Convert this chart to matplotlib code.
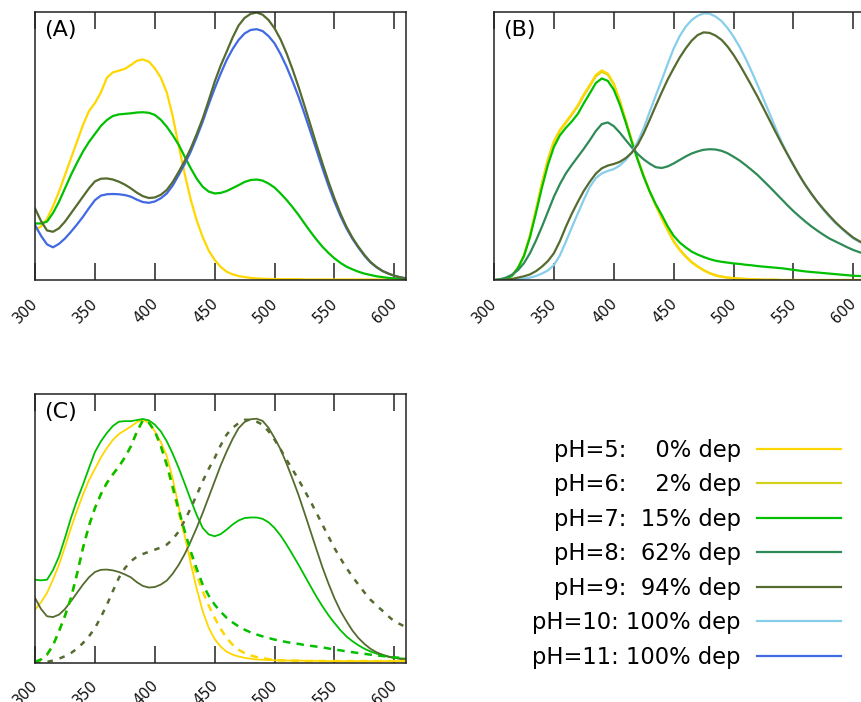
import matplotlib.pyplot as plt
from matplotlib.transforms import ScaledTranslation

# wavelength grid (nm) (axis height = 1)
wl = [300, 305, 310, 315, 320, 325, 330, 335, 340, 345,
      350, 355, 360, 365, 370, 375, 380, 385, 390, 395,
      400, 405, 410, 415, 420, 425, 430, 435, 440, 445,
      450, 455, 460, 465, 470, 475, 480, 485, 490, 495,
      500, 505, 510, 515, 520, 525, 530, 535, 540, 545,
      550, 555, 560, 565, 570, 575, 580, 585, 590, 595,
      600, 605, 610]

# (A) measured spectra
a_ph5 = [.187, .200, .228, .275, .330, .392, .454, .516, .578, .630,
         .660, .700, .755, .775, .781, .788, .802, .818, .823, .815,
         .790, .755, .700, .610, .500, .395, .300, .222, .160, .110,
         .075, .049, .031, .021, .015, .011, .008, .006, .005, .004,
         .004, .003, .003, .003, .003, .002, .002, .002, .002, .002,
         .002, .002, .002, .002, .002, .002, .002, .002, .002, .002,
         .002, .002, .002]
a_ph7 = [.211, .211, .218, .250, .292, .342, .392, .437, .479, .515,
         .545, .575, .597, .612, .618, .620, .622, .625, .626, .624,
         .616, .598, .572, .540, .504, .460, .417, .378, .348, .330,
         .323, .325, .332, .343, .354, .366, .373, .375, .371, .360,
         .345, .323, .299, .272, .243, .211, .180, .151, .124, .101,
         .081, .064, .050, .040, .031, .024, .019, .014, .011, .008,
         .006, .005, .004]
a_ph9 = [.267, .220, .185, .180, .193, .218, .249, .280, .311, .342,
         .368, .378, .379, .375, .367, .356, .342, .326, .313, .306,
         .308, .318, .336, .366, .404, .445, .491, .545, .603, .670,
         .740, .800, .852, .905, .950, .978, .993, .998, .990, .970,
         .939, .898, .846, .786, .721, .650, .578, .505, .435, .367,
         .305, .248, .199, .158, .124, .094, .068, .049, .034, .024,
         .016, .010, .006]
a_ph11 = [.205, .165, .133, .122, .135, .155, .180, .207, .236, .268,
          .298, .315, .320, .321, .320, .317, .311, .300, .291, .288,
          .293, .305, .323, .353, .392, .433, .479, .533, .591, .655,
          .715, .770, .821, .862, .896, .920, .933, .936, .929, .910,
          .883, .843, .796, .742, .684, .620, .553, .485, .417, .352,
          .292, .239, .193, .154, .121, .091, .066, .048, .034, .024,
          .016, .010, .006]

# (B) fitted spectra
b_ph5 = [0, .001, .004, .016, .044, .090, .165, .260, .360, .450,
         .518, .560, .590, .620, .652, .693, .728, .765, .782, .770,
         .733, .670, .595, .520, .450, .387, .330, .278, .230, .185,
         .143, .112, .087, .066, .050, .036, .025, .017, .012, .009,
         .007, .005, .004, .003, .002, .001, .001, .001, 0, 0,
         0, 0, 0, 0, 0, 0, 0, 0, 0, 0,
         0, 0, 0]
b_ph6 = [0, .001, .004, .017, .046, .092, .167, .262, .362, .450,
         .516, .557, .587, .617, .649, .689, .724, .760, .777, .766,
         .730, .668, .594, .520, .451, .388, .331, .279, .232, .187,
         .145, .114, .089, .067, .051, .037, .026, .018, .013, .009,
         .007, .005, .004, .003, .002, .001, .001, .001, 0, 0,
         0, 0, 0, 0, 0, 0, 0, 0, 0, 0,
         0, 0, 0]
b_ph7 = [0, .001, .004, .016, .045, .090, .160, .250, .345, .430,
         .497, .540, .568, .592, .620, .660, .697, .735, .752, .743,
         .710, .655, .588, .515, .448, .385, .330, .283, .243, .200,
         .165, .140, .122, .106, .095, .086, .078, .072, .068, .065,
         .062, .060, .057, .055, .052, .050, .048, .046, .044, .041,
         .038, .035, .032, .030, .028, .026, .024, .022, .020, .018,
         .016, .015, .015]
b_ph8 = [0, .003, .009, .020, .037, .063, .100, .147, .199, .255,
         .311, .358, .398, .430, .460, .490, .522, .556, .582, .588,
         .574, .550, .522, .495, .470, .450, .434, .421, .418, .424,
         .435, .448, .461, .472, .480, .486, .488, .487, .482, .473,
         .460, .446, .429, .411, .392, .370, .348, .325, .302, .279,
         .257, .237, .218, .200, .184, .169, .155, .144, .133, .122,
         .112, .104, .096]
b_ph9 = [0, 0, .001, .004, .009, .014, .021, .033, .050, .071,
         .100, .145, .199, .248, .292, .333, .367, .397, .417, .427,
         .433, .441, .455, .475, .505, .548, .598, .650, .700, .748,
         .790, .830, .864, .893, .914, .924, .922, .912, .896, .871,
         .840, .804, .765, .725, .684, .641, .597, .553, .510, .469,
         .429, .390, .354, .322, .292, .265, .240, .216, .195, .176,
         .158, .145, .133]
b_ph10 = [0, 0, 0, .001, .002, .005, .009, .015, .024, .036,
          .056, .092, .143, .197, .249, .300, .348, .380, .398, .407,
          .414, .427, .448, .476, .516, .567, .628, .688, .746, .806,
          .864, .910, .945, .970, .986, .995, .994, .983, .966, .940,
          .908, .870, .827, .779, .728, .675, .622, .568, .516, .470,
          .429, .390, .354, .321, .290, .262, .236, .213, .193, .173,
          .155, .143, .133]

# (C) normalised spectra: solid = measured, dashed = fitted
c_ph5 = [.198, .225, .260, .310, .365, .432, .502, .566, .626, .680,
         .722, .765, .800, .830, .852, .866, .880, .896, .906, .893,
         .862, .822, .770, .685, .580, .472, .370, .275, .192, .130,
         .088, .060, .041, .030, .023, .018, .015, .012, .011, .010,
         .009, .008, .008, .008, .008, .007, .007, .007, .007, .006,
         .006, .006, .006, .006, .006, .006, .006, .006, .006, .006,
         .006, .006, .006]
c_ph7 = [.309, .307, .309, .345, .396, .465, .539, .605, .663, .725,
         .785, .825, .856, .882, .898, .900, .900, .904, .908, .903,
         .887, .862, .825, .778, .725, .667, .607, .550, .502, .478,
         .471, .479, .496, .515, .530, .539, .541, .541, .536, .523,
         .502, .474, .440, .403, .365, .325, .285, .246, .210, .177,
         .148, .121, .098, .080, .065, .052, .042, .034, .028, .022,
         .018, .016, .015]
c_ph9 = [.241, .200, .173, .170, .179, .200, .229, .260, .291, .318,
         .338, .346, .347, .344, .338, .329, .318, .300, .286, .280,
         .282, .291, .306, .332, .365, .405, .452, .503, .558, .617,
         .676, .735, .787, .834, .874, .897, .907, .909, .901, .875,
         .837, .795, .742, .685, .625, .558, .490, .422, .355, .295,
         .240, .193, .155, .120, .092, .070, .052, .039, .030, .023,
         .018, .014, .011]
c_ph5_fit = [.003, .012, .030, .065, .117, .175, .241, .330, .427, .510,
             .576, .628, .670, .702, .731, .765, .806, .860, .903, .895,
             .862, .808, .735, .645, .558, .475, .396, .328, .266, .213,
             .167, .126, .092, .067, .048, .036, .027, .021, .017, .013,
             .011, .009, .008, .007, .007, .006, .006, .006, .006, .006,
             .006, .006, .006, .006, .006, .006, .006, .006, .006, .006,
             .006, .006, .006]
c_ph7_fit = [.003, .012, .030, .065, .117, .175, .241, .330, .427, .510,
             .576, .628, .670, .702, .731, .765, .806, .860, .903, .895,
             .862, .808, .738, .655, .570, .490, .415, .350, .291, .250,
             .216, .190, .167, .150, .135, .123, .113, .105, .098, .092,
             .086, .081, .077, .073, .070, .066, .063, .060, .057, .053,
             .049, .046, .042, .039, .036, .033, .030, .027, .025, .022,
             .020, .018, .017]
c_ph9_fit = [0, .001, .003, .008, .015, .024, .036, .052, .073, .098,
             .129, .170, .216, .267, .316, .352, .378, .395, .405, .413,
             .421, .429, .440, .460, .489, .530, .576, .625, .676, .722,
             .763, .810, .850, .875, .893, .905, .905, .898, .887, .862,
             .831, .795, .756, .720, .682, .642, .601, .558, .514, .470,
             .427, .389, .353, .321, .291, .262, .235, .214, .194, .173,
             .154, .143, .132]

labels = ['pH=5:    0% dep', 'pH=6:    2% dep', 'pH=7:  15% dep', 'pH=8:  62% dep',
          'pH=9:  94% dep', 'pH=10: 100% dep', 'pH=11: 100% dep']
colors = ['#FFD700', '#D2D21E', '#00C000', '#2E8B57', '#556B2F', '#87CEEB', '#4169E1']
ticks = [300, 350, 400, 450, 500, 550, 600]

fig = plt.figure(figsize=(8.61, 7.02), dpi=100)
axA = fig.add_axes([0.0407, 0.6011, 0.4305, 0.3818])
axB = fig.add_axes([0.5738, 0.6011, 0.4305, 0.3818])
axC = fig.add_axes([0.0407, 0.0560, 0.4305, 0.3823])

lw = 1.6
lA5, = axA.plot(wl, a_ph5, color=colors[0], lw=lw)
lA7, = axA.plot(wl, a_ph7, color=colors[2], lw=lw)
lA11, = axA.plot(wl, a_ph11, color=colors[6], lw=lw)
lA9, = axA.plot(wl, a_ph9, color=colors[4], lw=lw)

lB6, = axB.plot(wl, b_ph6, color=colors[1], lw=lw)
axB.plot(wl, b_ph5, color=colors[0], lw=lw)
axB.plot(wl, b_ph7, color=colors[2], lw=lw)
lB8, = axB.plot(wl, b_ph8, color=colors[3], lw=lw)
lB10, = axB.plot(wl, b_ph10, color=colors[5], lw=lw)
axB.plot(wl, b_ph9, color=colors[4], lw=lw)

axC.plot(wl, c_ph5, color=colors[0], lw=1.3)
axC.plot(wl, c_ph7, color=colors[2], lw=1.3)
axC.plot(wl, c_ph9, color=colors[4], lw=1.3)
axC.plot(wl, c_ph9_fit, color=colors[4], lw=1.8, ls=(0, (2.2, 2.8)))
axC.plot(wl, c_ph5_fit, color=colors[0], lw=1.8, ls=(0, (3, 2.5)))
axC.plot(wl, c_ph7_fit, color=colors[2], lw=1.8, ls=(0, (3, 2.5)))

# nudge the rotated tick labels so they end just under each tick
shift = ScaledTranslation(0.06, -0.03, fig.dpi_scale_trans)

for ax, name in [(axA, '(A)'), (axB, '(B)'), (axC, '(C)')]:
    ax.set_xlim(300, 609.5)
    ax.set_ylim(0, 1)
    ax.set_xticks(ticks)
    ax.set_xticklabels([str(t) for t in ticks], rotation=45, ha='right', fontsize=10.5)
    ax.set_yticks([])
    ax.tick_params(axis='x', direction='in', length=12, width=1.1, top=True, pad=9,
                   color='#222222', labelcolor='#111111')
    # after tick_params, otherwise it resets the label transforms
    for lab in ax.get_xticklabels():
        lab.set_transform(lab.get_transform() + shift)
    for s in ax.spines.values():
        s.set_linewidth(1.1)
        s.set_color('#222222')
    ax.text(0.024, 0.97, name, transform=ax.transAxes, fontsize=16, va='top', ha='left')

# legend: labels right-aligned, line samples to the right
handles = [lA5, lB6, lA7, lB8, lA9, lB10, lA11]
fig.legend(handles, labels, loc='upper right', bbox_to_anchor=(0.9768, 0.3753),
           frameon=False, markerfirst=False, fontsize=16.3, borderpad=0, borderaxespad=0,
           handlelength=3.7, handletextpad=0.72, labelspacing=0.51)

fig.savefig('out.png', dpi=100)
